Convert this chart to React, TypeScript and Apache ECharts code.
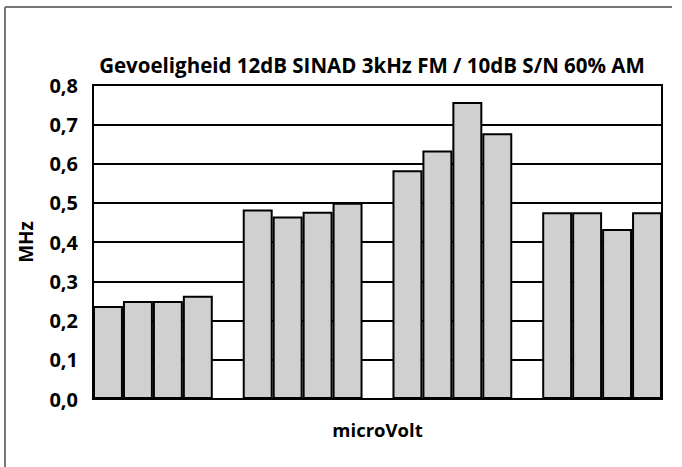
import React, { useEffect, useRef } from "react";
import * as echarts from "echarts";

const categories = ["1", "2", "3", "4"];
const series1 = [0.237, 0.483, 0.583, 0.476];
const series2 = [0.25, 0.465, 0.633, 0.476];
const series3 = [0.25, 0.477, 0.757, 0.433];
const series4 = [0.263, 0.5, 0.677, 0.476];
const allSeries = [series1, series2, series3, series4];

const titleText = "Gevoeligheid 12dB SINAD 3kHz FM / 10dB S/N 60% AM";
const yName = "MHz";
const xName = "microVolt";

const FONT = "'Open Sans', sans-serif";

export default function App() {
  const ref = useRef<HTMLDivElement>(null);
  useEffect(() => {
    document.body.style.margin = "0";
    const chart = echarts.init(ref.current!, null, { renderer: "svg" });
    const plotLeft = 93;
    const plotTop = 85;
    const plotW = 569;
    const plotH = 314;
    const bar = plotW / 19;
    chart.setOption({
      animation: false,
      backgroundColor: "#fff",
      title: {
        text: titleText,
        left: 367,
        top: 49,
        textAlign: "center",
        textStyle: { fontFamily: FONT, fontWeight: "bold", fontSize: 20.5, color: "#000" },
      },
      graphic: [
        { type: "line", shape: { x1: 5, y1: 7, x2: 672, y2: 7 }, style: { stroke: "#777", lineWidth: 2 } },
        { type: "line", shape: { x1: 5, y1: 7, x2: 5, y2: 467 }, style: { stroke: "#777", lineWidth: 2 } },
      ],
      grid: [
        {
          left: plotLeft,
          top: plotTop,
          width: plotW,
          height: plotH,
          show: true,
          borderColor: "#000",
          borderWidth: 2,
          backgroundColor: "transparent",
        },
        {
          left: plotLeft - bar / 2,
          top: plotTop,
          width: plotW + bar,
          height: plotH,
        },
      ],
      xAxis: [
        {
          gridIndex: 0,
          type: "category",
          data: categories,
          axisLine: { show: false },
          axisTick: { show: false },
          axisLabel: { show: false },
          name: xName,
          nameLocation: "middle",
          nameGap: 21,
          nameTextStyle: { fontFamily: FONT, fontWeight: "bold", fontSize: 18.5, color: "#000" },
        },
        {
          gridIndex: 1,
          type: "category",
          data: categories,
          show: false,
        },
      ],
      yAxis: [
        {
          gridIndex: 0,
          type: "value",
          min: 0,
          max: 0.8,
          interval: 0.1,
          axisLine: { show: false },
          axisTick: { show: false },
          splitLine: { show: true, lineStyle: { color: "#000", width: 2 } },
          axisLabel: {
            margin: 15,
            fontFamily: FONT,
            fontWeight: "bold",
            fontSize: 20,
            color: "#000",
            formatter: (v: number) => v.toFixed(1).replace(".", ","),
          },
          name: yName,
          nameLocation: "middle",
          nameRotate: 90,
          nameGap: 58,
          nameTextStyle: { fontFamily: FONT, fontWeight: "bold", fontSize: 19, color: "#000" },
        },
        {
          gridIndex: 1,
          type: "value",
          min: 0,
          max: 0.8,
          show: false,
        },
      ],
      series: allSeries.map((d, i) => ({
        type: "bar",
        name: "s" + (i + 1),
        xAxisIndex: 1,
        yAxisIndex: 1,
        data: d,
        barGap: "0%",
        barCategoryGap: "20%",
        itemStyle: { color: "#d0d0d0", borderColor: "#000", borderWidth: 2 },
      })),
    });
    return () => chart.dispose();
  }, []);
  return <div ref={ref} style={{ width: 682, height: 467 }} />;
}
